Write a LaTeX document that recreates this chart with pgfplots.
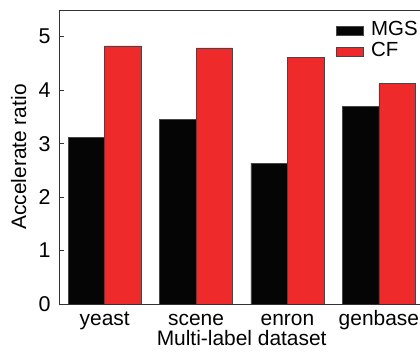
\documentclass[border=0pt]{standalone}
\usepackage{fontspec}
\setmainfont{Liberation Sans}
\usepackage{pgfplots}
\pgfplotsset{compat=1.18}
\definecolor{cfred}{RGB}{238,42,42}
\definecolor{mgsblack}{RGB}{5,5,5}
\definecolor{edgegray}{RGB}{70,70,70}
\begin{document}
\begin{tikzpicture}
\pgfplotsset{mylegend/.style={legend image code/.code={\draw[##1] (0bp,-4.5bp) rectangle (27.7bp,4.5bp);}}}
\begin{axis}[
 at={(0,0)}, anchor=south west,
 scale only axis, width=361bp, height=294bp,
 xmin=-0.5, xmax=3.45, ymin=0, ymax=5.5,
 axis x line*=box, axis y line*=left,
 axis line style={line width=0.8bp, black!80},
 xtick={0,1,2,3}, xticklabels={yeast,scene,enron,genbase},
 ytick={0,1,2,3,4,5},
 tick align=inside,
 major tick length=5bp,
 tick style={line width=0.8bp, black!80},
 x tick style={draw=none},
 /pgf/number format/assume math mode=true,
 yticklabel style={font=\fontsize{21.5}{25}\selectfont, inner sep=0, anchor=east, xshift=-8.3bp},
 xticklabel style={font=\fontsize{21}{25}\selectfont, inner sep=0, anchor=base, yshift=-21.5bp},
 xlabel={Multi-label dataset},
 ylabel={Accelerate ratio},
 xlabel style={font=\fontsize{21}{25}\selectfont, at={(axis description cs:0.506,-0.1395)}, anchor=base, inner sep=0},
 ylabel style={font=\fontsize{21}{25}\selectfont, at={(axis description cs:-0.0914,0.5)}, anchor=base, inner sep=0},
 legend style={at={(rel axis cs:0.766,0.957)}, anchor=north west, draw=none, fill=none, inner sep=0, outer sep=0, row sep=4bp, column sep=7.3bp,
   nodes={font=\fontsize{20.5}{20.5}\selectfont, text height=13bp, text depth=4bp, inner sep=0, anchor=west}},
 legend cell align=left,
]
\addplot[ybar, fill=mgsblack, draw=edgegray, line width=0.6bp, bar width=0.4, bar shift=-0.2, mylegend]
 coordinates {(0,3.11) (1,3.45) (2,2.63) (3,3.70)};
\addlegendentry{MGS}
\addplot[ybar, fill=cfred, draw=edgegray, line width=0.6bp, bar width=0.4, bar shift=0.2, mylegend]
 coordinates {(0,4.83) (1,4.79) (2,4.61) (3,4.12)};
\addlegendentry{CF}
\end{axis}
\pgfresetboundingbox
\path[use as bounding box] (-59bp,-54bp) rectangle (361bp,304bp);
\end{tikzpicture}
\end{document}
